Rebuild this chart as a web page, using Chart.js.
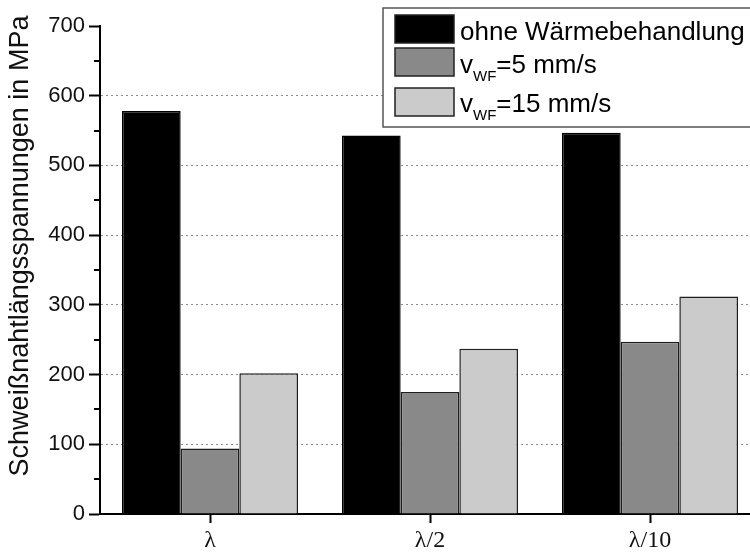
<!DOCTYPE html>
<html lang="de">
<head>
<meta charset="utf-8">
<title>Schweißnahtlängsspannungen</title>
<script src="https://cdn.jsdelivr.net/npm/chart.js@4.4.1/dist/chart.umd.min.js"></script>
<style>
  html, body { margin: 0; padding: 0; background: #fff; overflow: hidden; }
  .wrap { position: absolute; left: 0; top: 0; width: 760px; height: 552px; }
</style>
</head>
<body>
<div class="wrap"><canvas id="grafico" width="760" height="552"></canvas></div>
<script>
// ----- Daten -----
const kategorien = ['λ', 'λ/2', 'λ/10'];
const serienNamen = ['ohne Wärmebehandlung', 'v_WF=5 mm/s', 'v_WF=15 mm/s'];
const ohneWaerme = [578, 543, 547];
const vWF5 = [94, 175, 247];
const vWF15 = [202, 237, 312];
const yTicks = [0, 100, 200, 300, 400, 500, 600, 700];
const yMinorTicks = [50, 150, 250, 350, 450, 550, 650];
const yTitel = 'Schweißnahtlängsspannungen in MPa';

const sansFont = '"Liberation Sans", Arial, sans-serif';
const serifFont = '"Liberation Serif", "Times New Roman", serif';

// kleine Ticks zwischen den Hauptticks
const minorTicks = {
  id: 'minorTicks',
  afterDraw(chart) {
    const y = chart.scales.y;
    const ctx = chart.ctx;
    ctx.save();
    ctx.strokeStyle = '#000';
    ctx.lineWidth = 2;
    yMinorTicks.forEach(v => {
      const py = Math.round(y.getPixelForValue(v));
      ctx.beginPath();
      ctx.moveTo(chart.chartArea.left - 6, py);
      ctx.lineTo(chart.chartArea.left, py);
      ctx.stroke();
    });
    ctx.restore();
  }
};

// Achsentitel etwas nach oben versetzt, wie im Original
const achsenTitel = {
  id: 'achsenTitel',
  afterDraw(chart) {
    const ctx = chart.ctx;
    ctx.save();
    ctx.translate(21, 246);
    ctx.rotate(-Math.PI / 2);
    ctx.font = '27px ' + sansFont;
    ctx.fillStyle = '#111';
    ctx.textAlign = 'center';
    ctx.textBaseline = 'middle';
    ctx.fillText(yTitel, 0, 0);
    ctx.restore();
  }
};

// Legende mit Index (v_WF) selbst zeichnen
const legendeBox = {
  id: 'legendeBox',
  afterDraw(chart) {
    const ctx = chart.ctx;
    const rows = [15, 48, 88];
    const baselines = [40, 73, 112];
    ctx.save();
    ctx.fillStyle = '#fff';
    ctx.fillRect(383, 8, 420, 119);
    ctx.strokeStyle = '#555';
    ctx.lineWidth = 1.5;
    ctx.strokeRect(383, 8, 420, 119);

    chart.data.datasets.forEach((ds, i) => {
      ctx.fillStyle = ds.backgroundColor;
      ctx.fillRect(395, rows[i], 59, 28);
      ctx.strokeStyle = '#222';
      ctx.lineWidth = 1.5;
      ctx.strokeRect(395, rows[i], 59, 28);

      ctx.fillStyle = '#000';
      ctx.textBaseline = 'alphabetic';
      ctx.textAlign = 'left';
      let x = 460;
      const m = ds.label.match(/^(.*?)_([A-Za-z]+)(.*)$/);
      if (m) {
        ctx.font = '26px ' + sansFont;
        ctx.fillText(m[1], x, baselines[i]);
        x += ctx.measureText(m[1]).width;
        ctx.font = '15px ' + sansFont;
        ctx.fillText(m[2], x, baselines[i] + 8);
        x += ctx.measureText(m[2]).width;
        ctx.font = '26px ' + sansFont;
        ctx.fillText(m[3], x, baselines[i]);
      } else {
        ctx.font = '26px ' + sansFont;
        ctx.fillText(ds.label, x, baselines[i]);
      }
    });
    ctx.restore();
  }
};

const ctxGrafico = document.getElementById('grafico').getContext('2d');

new Chart(ctxGrafico, {
  type: 'bar',
  data: {
    labels: kategorien,
    datasets: [
      {
        label: serienNamen[0],
        data: ohneWaerme,
        backgroundColor: '#000000',
        borderColor: '#000000',
        borderWidth: 1.5
      },
      {
        label: serienNamen[1],
        data: vWF5,
        backgroundColor: '#898989',
        borderColor: '#1e1e1e',
        borderWidth: 1.5
      },
      {
        label: serienNamen[2],
        data: vWF15,
        backgroundColor: '#cbcbcb',
        borderColor: '#1e1e1e',
        borderWidth: 1.5
      }
    ]
  },
  options: {
    responsive: false,
    animation: false,
    layout: { padding: { top: 26, right: 0, left: 0, bottom: 0 } },
    datasets: {
      bar: { categoryPercentage: 0.8, barPercentage: 1.0 }
    },
    scales: {
      x: {
        afterFit: s => { s.height = 38; },
        grid: {
          drawOnChartArea: false,
          offset: false,
          tickLength: 9,
          tickWidth: 2,
          tickColor: '#000'
        },
        border: { color: '#000', width: 2 },
        ticks: {
          color: '#111',
          padding: 3,
          font: { family: serifFont, size: 24 }
        }
      },
      y: {
        min: 0,
        max: 700,
        afterFit: s => { s.width = 100; },
        afterBuildTicks: s => { s.ticks = yTicks.map(v => ({ value: v })); },
        grid: {
          color: c => (c.tick && (c.tick.value === 0 || c.tick.value === 700)) ? 'rgba(0,0,0,0)' : '#8c8c8c',
          lineWidth: 1,
          tickLength: 11,
          tickWidth: 2,
          tickColor: '#000'
        },
        border: { color: '#000', width: 2, dash: [2, 3] },
        ticks: {
          color: '#111',
          padding: 4,
          font: { family: sansFont, size: 22 }
        },
        title: { display: false }
      }
    },
    plugins: {
      legend: { display: false },
      tooltip: { enabled: false }
    }
  },
  plugins: [minorTicks, achsenTitel, legendeBox]
});
</script>
</body>
</html>
